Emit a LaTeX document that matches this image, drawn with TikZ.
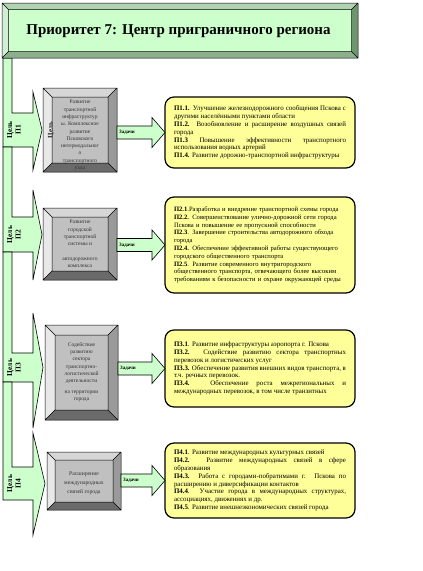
\documentclass[tikz,border=0pt]{standalone}
\usepackage{fontspec}
\setmainfont{Liberation Serif}
\usetikzlibrary{calc}
\definecolor{lgreen}{HTML}{CCFFCC}
\definecolor{yel}{HTML}{FFFF99}
\definecolor{tbT}{HTML}{B0D4B0}
\definecolor{tbL}{HTML}{D2EED2}
\definecolor{tbR}{HTML}{6E966E}
\definecolor{tbB}{HTML}{8CB08C}
\definecolor{gT}{HTML}{D6D6D6}
\definecolor{gL}{HTML}{E8E8E8}
\definecolor{gR}{HTML}{9A9A9A}
\definecolor{gB}{HTML}{6A6A6A}
\definecolor{gF}{HTML}{C0C0C0}
\newcommand\bevelfaces[7]{%
  \coordinate (#1-A) at (#1.north west);
  \coordinate (#1-B) at (#1.north east);
  \coordinate (#1-C) at (#1.south east);
  \coordinate (#1-D) at (#1.south west);
  \coordinate (#1-a) at ($(#1-A)+(#2,#2)$);
  \coordinate (#1-b) at ($(#1-B)+(-#2,#2)$);
  \coordinate (#1-c) at ($(#1-C)+(-#2,-#2)$);
  \coordinate (#1-d) at ($(#1-D)+(#2,-#2)$);
  \fill[#3] (#1-A)--(#1-B)--(#1-b)--(#1-a)--cycle;
  \fill[#4] (#1-A)--(#1-a)--(#1-d)--(#1-D)--cycle;
  \fill[#5] (#1-B)--(#1-C)--(#1-c)--(#1-b)--cycle;
  \fill[#6] (#1-D)--(#1-d)--(#1-c)--(#1-C)--cycle;
  \fill[#7] (#1-a) rectangle (#1-c);
  \draw[line width=0.5pt] (#1-A) rectangle (#1-C) (#1-a) rectangle (#1-c)
     (#1-A)--(#1-a) (#1-B)--(#1-b) (#1-C)--(#1-c) (#1-D)--(#1-d);
}
\newcommand\goalarrow[6]{%
  \draw[goalshape] (3,#1) -- (12,#1) -- (12,#2) -- (33,#2) -- (33,#4)
    -- ({#6},{(#2+#3)/2}) -- (33,#5) -- (33,#3) -- (3,#3) -- cycle;
}
\newcommand\taskarrow[3]{% #1 from node, #2 to node, #3 label name
  \draw[taskshape] ($(#1.east |- #2.west)+(0,-6.5)$) -- ($(#2.west)+(-13,-6.5)$)
    -- ($(#2.west)+(-13,-15)$) -- (#2.west) -- ($(#2.west)+(-13,15)$)
    -- ($(#2.west)+(-13,6.5)$) -- ($(#1.east |- #2.west)+(0,6.5)$) -- cycle;
  \node[tasklabel] (#3) at ($(#1.east |- #2.west)+(2,0)$) {Задачи};
}
\begin{document}
\begin{tikzpicture}[x=1pt,y=-1pt,line join=miter,
  goalshape/.style={draw,fill=lgreen,line width=0.6pt},
  taskshape/.style={draw,fill=lgreen,line width=0.6pt},
  tasklabel/.style={font=\bfseries\fontsize{5}{6}\selectfont,inner sep=0,anchor=west},
  bev/.style={inner sep=0,outer sep=0},
  ybox/.style={draw,line width=1.2pt,fill=yel,rounded corners=9pt,text width=172pt,
     inner xsep=9pt,inner ysep=0pt,outer sep=0,align=justify,
     font=\fontsize{6.9}{7.8}\selectfont},
  gtext/.style={align=center,font=\fontsize{5.5}{7.3}\selectfont,text=black!80,inner sep=0},
  goallabel/.style={rotate=90,align=center,font=\bfseries\fontsize{7.5}{8.5}\selectfont,inner sep=0}]
\useasboundingbox (0,0) rectangle (423,571);
\fill[white] (0,0) rectangle (423,571);

% left goal arrows
\goalarrow{58}{113}{147}{92}{170}{42}
\goalarrow{147}{217}{252}{190}{280}{42}
\goalarrow{252}{353}{382}{313}{428}{43}
\goalarrow{382}{467}{500}{433}{535}{45}
\node[goallabel] (c1) at (14,130) {Цель\\П1};
\node[goallabel] (c2) at (14,234.5) {Цель\\П2};
\node[goallabel] (c3) at (14,367.5) {Цель\\П3};
\node[goallabel] (c4) at (14,483.5) {Цель\\П4};

% title
\node[bev,minimum width=356pt,minimum height=55pt] (t) at (180,30.5) {};
\bevelfaces{t}{6.5}{tbT}{tbL}{tbR}{tbB}{lgreen}
\node[font=\bfseries\fontsize{15}{17}\selectfont,inner sep=0] (title) at (178.5,31) {Приоритет 7: Центр приграничного региона};

% gray goal boxes
\node[bev,minimum width=74pt,minimum height=84pt] (o1) at (80,130) {};
\bevelfaces{o1}{9}{gT}{gL}{gR}{gB}{gF}
\node[gtext] (b1) at (80,135.5) {Развитие\\транспортной\\инфраструктур\\ы. Комплексное\\развитие\\Псковского\\интермодальног\\о\\транспортного\\узла};
\node[rotate=90,font=\bfseries\fontsize{7}{8}\selectfont,inner sep=0,text=black!85] (c1x) at (51,130) {Цель};

\node[bev,minimum width=74pt,minimum height=72pt] (o2) at (80,244) {};
\bevelfaces{o2}{9}{gT}{gL}{gR}{gB}{gF}
\node[gtext] (b2) at (80,244) {Развитие\\городской\\транспортной\\системы и\\[7.3pt]автодорожного\\комплекса};

\node[bev,minimum width=73pt,minimum height=95pt] (o3) at (81.5,372.5) {};
\bevelfaces{o3}{10}{gT}{gL}{gR}{gB}{gF}
\node[gtext] (b3) at (81.5,372) {Содействие\\развитию\\сектора\\транспортно-\\логистической\\деятельности\\[3pt]на территории\\города};

\node[bev,minimum width=74pt,minimum height=58pt] (o4) at (84,481) {};
\bevelfaces{o4}{8}{gT}{gL}{gR}{gB}{gF}
\node[gtext,font=\fontsize{5.7}{9}\selectfont] (b4) at (84,483) {Расширение\\международных\\связей города};

% yellow task boxes
\node[ybox,minimum width=190pt,minimum height=71pt] (y1) at (260,132.5) {%
\textbf{П1.1.} Улучшение железнодорожного сообщения Пскова с другими населёнными пунктами области\\
\textbf{П1.2.} Возобновление и расширение воздушных связей города\\
\textbf{П1.3} Повышение эффективности транспортного использования водных артерий\\
\textbf{П1.4.} Развитие дорожно-транспортной инфраструктуры};

\node[ybox,minimum width=190pt,minimum height=96pt,align=left,font=\fontsize{6.6}{7.8}\selectfont] (y2) at (260,245) {%
\textbf{П2.1}.Разработка и внедрение транспортной схемы города\\
\textbf{П2.2.} Совершенствование улично-дорожной сети города Пскова и повышение ее пропускной способности\\
\textbf{П2.3}. Завершение строительства автодорожного обхода города\\
\textbf{П2.4.} Обеспечение эффективной работы существующего городского общественного транспорта\\
\textbf{П2.5}. Развитие современного внутригородского общественного транспорта, отвечающего более высоким требованиям к безопасности и охране окружающей среды};

\node[ybox,minimum width=190pt,minimum height=77pt] (y3) at (260,368.5) {%
\textbf{П3.1}. Развитие инфраструктуры аэропорта г. Пскова\\
\textbf{П3.2.} Содействие развитию сектора транспортных перевозок и логистических услуг\\
\textbf{П3.3.} Обеспечение развития внешних видов транспорта, в т.ч. речных перевозок.\\
\textbf{П3.4.} Обеспечение роста межрегиональных и международных перевозок, в том числе транзитных};

\node[ybox,minimum width=190pt,minimum height=75pt] (y4) at (260,480.5) {%
\textbf{П4.1}. Развитие международных культурных связей\\
\textbf{П4.2.} Развитие международных связей в сфере образования\\
\textbf{П4.3.} Работа с городами-побратимами г. Пскова по расширению и диверсификации контактов\\
\textbf{П4.4}. Участие города в международных структурах, ассоциациях, движениях и др.\\
\textbf{П4.5}. Развитие внешнеэкономических связей города};

% task arrows
\taskarrow{o1}{y1}{z1}
\taskarrow{o2}{y2}{z2}
\taskarrow{o3}{y3}{z3}
\taskarrow{o4}{y4}{z4}
\end{tikzpicture}
\end{document}
